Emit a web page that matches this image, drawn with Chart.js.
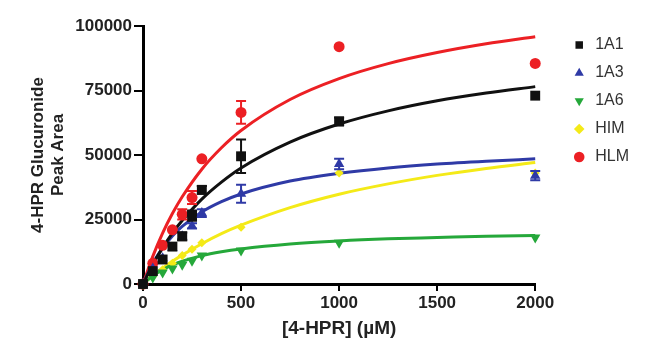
<!DOCTYPE html>
<html>
<head>
<meta charset="utf-8">
<script src="https://cdn.jsdelivr.net/npm/chart.js@4"></script>
<style>
  html, body { margin: 0; padding: 0; background: #fff; }
  #wrap { width: 649px; height: 349px; }
</style>
</head>
<body>
<div id="wrap"><canvas id="myChart-Gluc" width="649" height="349"></canvas></div>
<script>
// concentrations measured
const conc = [0, 50, 100, 150, 200, 250, 300, 500, 1000, 2000];

const a1 = [0, 5000, 9500, 14500, 18500, 26500, 36500, 49500, 63000, 73000];
const a3 = [0, 6000, 10000, 14000, 18500, 22500, 27500, 35000, 46500, 42000];
const a6 = [0, 2500, 4500, 6000, 7500, 9000, 11000, 13000, 16000, 18000];
const him = [0, 3000, 5500, 8000, 11000, 13500, 16000, 22000, 43000, 43000];
const hlm = [0, 8000, 15000, 21000, 27000, 33500, 48500, 66500, 92000, 85500];

// error bars (+/-)
const errA1 = [0, 0, 0, 0, 1500, 2000, 1500, 6500, 1500, 0];
const errA3 = [0, 0, 0, 0, 0, 1000, 1500, 3500, 2000, 1800];
const errA6 = [0, 0, 0, 0, 0, 0, 0, 0, 0, 0];
const errHim = [0, 0, 0, 0, 0, 0, 0, 0, 0, 0];
const errHlm = [0, 0, 0, 0, 2000, 2500, 0, 4400, 0, 0];

// fitted curves
const fitX = [0, 50, 100, 150, 200, 300, 400, 500, 750, 1000, 1250, 1500, 1750, 2000];
const fitA1 = [0, 7600, 14000, 19700, 24600, 32900, 39500, 45000, 55000, 62000, 67100, 71000, 74000, 76500];
const fitA3 = [0, 8000, 13900, 18600, 22300, 27900, 31900, 34900, 39900, 42900, 45000, 46500, 47600, 48500];
const fitA6 = [0, 3200, 5500, 7400, 8800, 11000, 12500, 13600, 15500, 16700, 17500, 18000, 18500, 18800];
const fitHim = [0, 3200, 6100, 8800, 11200, 15600, 19500, 22800, 29600, 34800, 38800, 42100, 44800, 47100];
const fitHlm = [0, 10700, 19700, 27300, 33800, 44500, 52800, 59500, 71500, 79600, 85400, 89700, 93100, 95800];

const xTicks = [0, 500, 1000, 1500, 2000];
const yTicks = [0, 25000, 50000, 75000, 100000];

const black = '#111111';
const blue = '#2f3aa6';
const green = '#25a83a';
const yellow = '#f4ea18';
const red = '#ec2024';
const font = 'Liberation Sans, Arial, sans-serif';

function pts(xs, ys) {
  return xs.map((x, i) => ({ x: x, y: ys[i] }));
}

function points(label, ys, err, color, style, radius, rot) {
  return {
    type: 'scatter',
    label: label,
    data: pts(conc, ys),
    err: err,
    pointStyle: style,
    pointRadius: radius,
    pointRotation: rot || 0,
    backgroundColor: color,
    borderColor: color,
    borderWidth: 0,
    clip: false,
    order: 1
  };
}

function curve(ys, color) {
  return {
    type: 'line',
    label: '_fit',
    data: pts(fitX, ys),
    borderColor: color,
    borderWidth: 3,
    pointRadius: 0,
    fill: false,
    cubicInterpolationMode: 'monotone',
    clip: false,
    order: 2
  };
}

const errorBars = {
  id: 'errorBars',
  afterDatasetsDraw(chart) {
    const ctx = chart.ctx;
    const xs = chart.scales.x, ys = chart.scales.y;
    chart.data.datasets.forEach(ds => {
      if (!ds.err) return;
      ctx.save();
      ctx.strokeStyle = ds.borderColor;
      ctx.lineWidth = 2;
      ds.data.forEach((p, i) => {
        const e = ds.err[i];
        if (!e) return;
        const px = xs.getPixelForValue(p.x);
        const top = ys.getPixelForValue(p.y + e);
        const bot = ys.getPixelForValue(p.y - e);
        ctx.beginPath();
        ctx.moveTo(px, top); ctx.lineTo(px, bot);
        ctx.moveTo(px - 5, top); ctx.lineTo(px + 5, top);
        ctx.moveTo(px - 5, bot); ctx.lineTo(px + 5, bot);
        ctx.stroke();
      });
      ctx.restore();
    });
  }
};

// push the legend a bit away from the plot
const legendShift = {
  id: 'legendShift',
  afterLayout(chart) {
    const l = chart.legend;
    l.left += 24;
    l.right += 24;
    l.top -= 1;
    l.bottom -= 1;
  }
};

const glucChart = document.getElementById('myChart-Gluc');

new Chart(glucChart, {
  type: 'scatter',
  data: {
    datasets: [
      points('1A1', a1, errA1, black, 'rect', 7),
      points('1A3', a3, errA3, blue, 'triangle', 6),
      points('1A6', a6, errA6, green, 'triangle', 6, 180),
      points('HIM', him, errHim, yellow, 'rectRot', 4.5),
      points('HLM', hlm, errHlm, red, 'circle', 5.5),
      curve(fitA1, black),
      curve(fitA3, blue),
      curve(fitA6, green),
      curve(fitHim, yellow),
      curve(fitHlm, red)
    ]
  },
  options: {
    responsive: false,
    animation: false,
    layout: { padding: { top: 26, right: 34, left: 24, bottom: 0 } },
    plugins: {
      tooltip: { enabled: false },
      legend: {
        position: 'right',
        align: 'start',
        labels: {
          usePointStyle: true,
          boxWidth: 16,
          boxHeight: 7.5,
          padding: 12,
          color: '#333',
          font: { family: font, size: 16 },
          filter: item => item.text !== '_fit'
        }
      }
    },
    scales: {
      x: {
        type: 'linear',
        min: 0,
        max: 2000,
        afterBuildTicks: s => { s.ticks = xTicks.map(v => ({ value: v })); },
        afterFit: s => { s.height = 65; },
        border: { color: '#000', width: 3 },
        grid: { drawOnChartArea: false, drawTicks: true, tickLength: 7, color: '#000', lineWidth: 2 },
        ticks: {
          color: '#222',
          padding: 2,
          font: { family: font, size: 17, weight: 'bold' },
          callback: v => String(v)
        },
        title: {
          display: true,
          text: '[4-HPR] (\u00b5M)',
          color: '#222',
          padding: { top: 4, bottom: 9 },
          font: { family: font, size: 19, weight: 'bold' }
        }
      },
      y: {
        min: 0,
        max: 100000,
        afterBuildTicks: s => { s.ticks = yTicks.map(v => ({ value: v })); },
        afterFit: s => { s.width = 119; },
        border: { color: '#000', width: 3 },
        grid: { drawOnChartArea: false, drawTicks: true, tickLength: 9, color: '#000', lineWidth: 2 },
        ticks: {
          color: '#222',
          padding: 2,
          font: { family: font, size: 17, weight: 'bold' },
          callback: v => String(v)
        },
        title: {
          display: true,
          text: ['4-HPR Glucuronide', 'Peak Area'],
          color: '#222',
          padding: { top: 4, bottom: 4 },
          font: { family: font, size: 17, weight: 'bold', lineHeight: 1.2 }
        }
      }
    }
  },
  plugins: [errorBars, legendShift]
});
</script>
</body>
</html>
